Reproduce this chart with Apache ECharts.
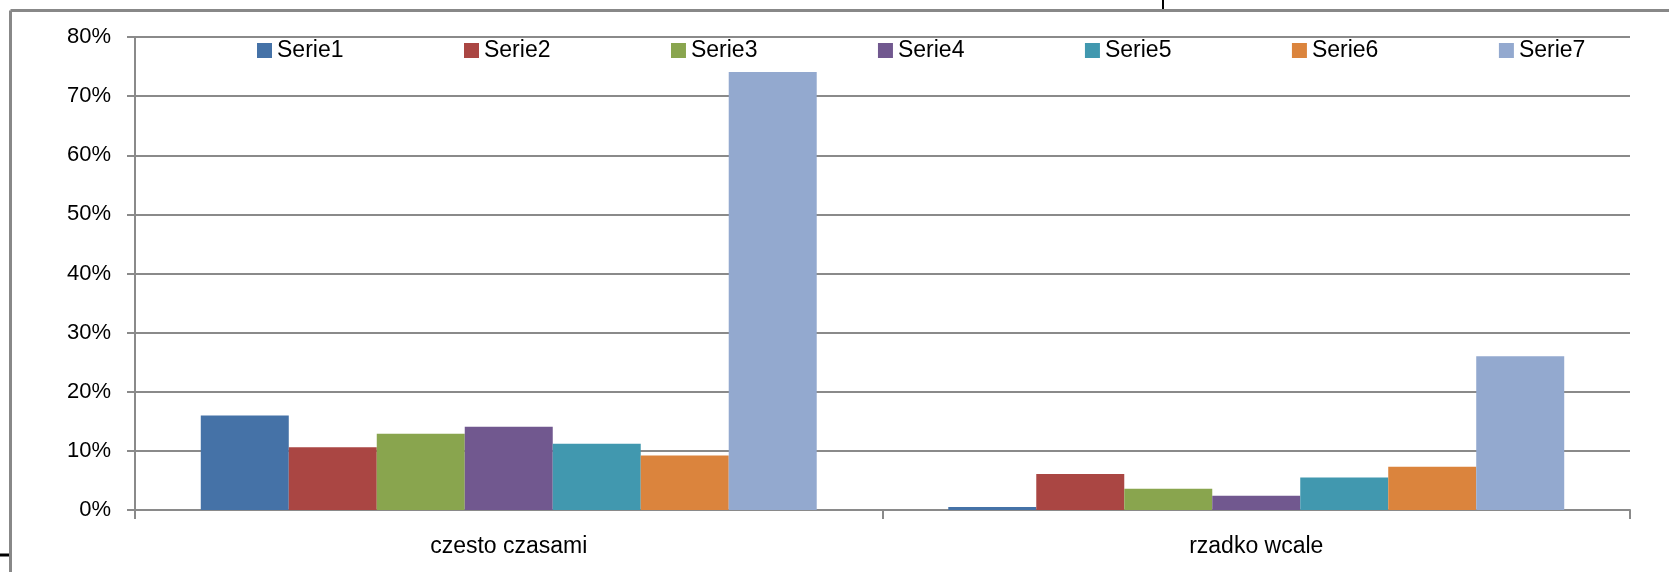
<!DOCTYPE html>
<html>
<head>
<meta charset="utf-8">
<script src="https://cdn.jsdelivr.net/npm/echarts@6/dist/echarts.min.js"></script>
<style>
html,body{margin:0;padding:0;background:#fff;}
#chart{width:1669px;height:572px;}
</style>
</head>
<body>
<div id="chart"></div>
<script>
const categories = ['czesto czasami', 'rzadko wcale'];
const seriesNames = ['Serie1', 'Serie2', 'Serie3', 'Serie4', 'Serie5', 'Serie6', 'Serie7'];
const serie1 = [16.0, 0.5];
const serie2 = [10.6, 6.1];
const serie3 = [12.9, 3.6];
const serie4 = [14.1, 2.4];
const serie5 = [11.2, 5.5];
const serie6 = [9.2, 7.3];
const serie7 = [74.1, 26.0];
const yTicks = [0, 10, 20, 30, 40, 50, 60, 70, 80];

const allValues = [serie1, serie2, serie3, serie4, serie5, serie6, serie7];
const colors = ['#4572A7', '#AA4643', '#89A54E', '#71588F', '#4198AF', '#DB843D', '#93A9CF'];
const font = '"Liberation Sans", Arial, sans-serif';
const gridColor = '#8a8a8a';

const chart = echarts.init(document.getElementById('chart'), null, {renderer: 'canvas'});
chart.setOption({
  animation: false,
  backgroundColor: '#ffffff',
  color: colors,
  grid: {left: 135, right: 39, top: 37, bottom: 62, containLabel: false},
  legend: {
    data: seriesNames,
    left: 257,
    top: 39,
    padding: 0,
    itemWidth: 15,
    itemHeight: 15,
    itemGap: 120.5,
    icon: 'rect',
    textStyle: {fontFamily: font, fontSize: 23, color: '#000'}
  },
  xAxis: {
    type: 'category',
    data: categories,
    axisLine: {show: true, lineStyle: {color: gridColor, width: 2}},
    axisTick: {show: true, length: 9, lineStyle: {color: gridColor, width: 2}},
    axisLabel: {fontFamily: font, fontSize: 23, color: '#000', margin: 25}
  },
  yAxis: {
    type: 'value',
    min: yTicks[0],
    max: yTicks[yTicks.length - 1],
    interval: 10,
    axisLine: {show: true, lineStyle: {color: gridColor, width: 2}},
    axisTick: {show: true, length: 8, lineStyle: {color: gridColor, width: 2}},
    splitLine: {show: true, lineStyle: {color: gridColor, width: 2}},
    axisLabel: {fontFamily: font, fontSize: 22, color: '#000', margin: 24, formatter: '{value}%'}
  },
  series: seriesNames.map((name, i) => ({
    name: name,
    type: 'bar',
    data: allValues[i],
    barGap: '0%',
    barCategoryGap: '17.6%',
    itemStyle: {color: colors[i]}
  })),
  graphic: [
    {type: 'line', shape: {x1: 10.5, y1: 10.5, x2: 1669, y2: 10.5}, style: {stroke: '#888888', lineWidth: 3}},
    {type: 'line', shape: {x1: 10.5, y1: 10.5, x2: 10.5, y2: 572}, style: {stroke: '#888888', lineWidth: 3}},
    {type: 'line', shape: {x1: 1163, y1: 0, x2: 1163, y2: 9}, style: {stroke: '#000', lineWidth: 2}},
    {type: 'line', shape: {x1: 0, y1: 555, x2: 9, y2: 555}, style: {stroke: '#000', lineWidth: 3}}
  ]
});
</script>
</body>
</html>
